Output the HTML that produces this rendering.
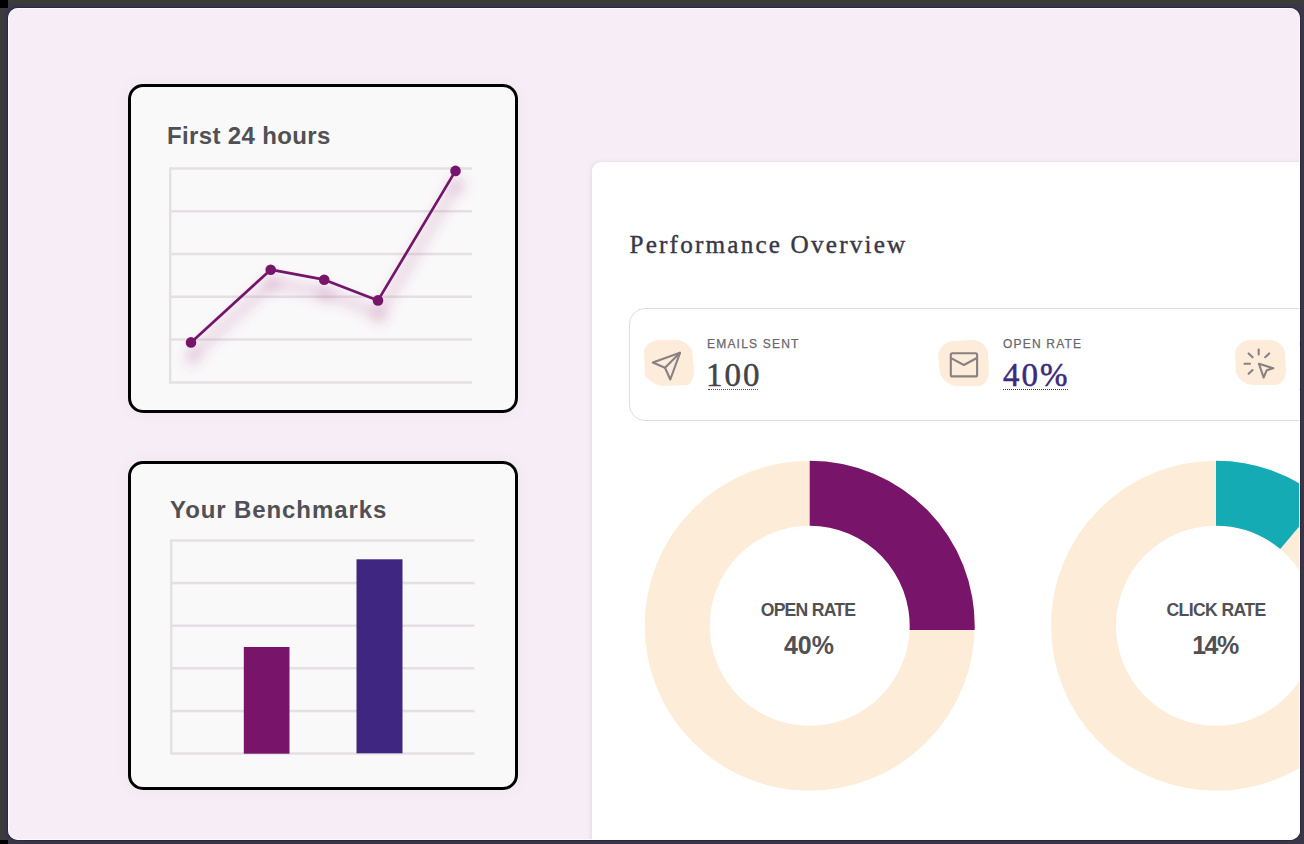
<!DOCTYPE html>
<html><head><meta charset="utf-8">
<style>
html,body{margin:0;padding:0;}
body{width:1304px;height:844px;overflow:hidden;background:#3b3b37;position:relative;font-family:"Liberation Sans",sans-serif;}
.band{position:absolute;left:3.5px;top:3.5px;right:0;bottom:0;background:#3a3649;}
.frame{position:absolute;left:8px;top:8px;width:1292px;height:832px;background:#f7edf6;border-radius:10px;overflow:hidden;box-shadow:0 0 0 1px #2e2a3e;}
.halo{position:absolute;left:8px;top:8px;width:1292px;height:832px;border-radius:10px;box-shadow:inset 0 0 0 1px rgba(255,250,255,0.8);pointer-events:none;}
.abs{position:absolute;}
.card{position:absolute;box-sizing:border-box;width:390px;height:329px;border:3px solid #000;border-radius:15px;background:#f9f9f9;box-shadow:0 0 18px rgba(60,40,60,0.04);}
.ttl{position:absolute;white-space:nowrap;font-weight:bold;color:#505055;font-size:24px;line-height:24px;}
.panel{position:absolute;left:583.5px;top:153.7px;width:800px;height:760px;background:#fff;border-radius:9px;box-shadow:-1px 0 4px rgba(150,140,150,0.18);}
.ptitle{position:absolute;white-space:nowrap;font-family:"Liberation Serif",serif;color:#383846;font-size:25.2px;line-height:26px;-webkit-text-stroke:0.4px #383846;}
.stats{position:absolute;box-sizing:border-box;border:1.3px solid #dfdede;border-radius:16px;background:#fff;}
.lbl{position:absolute;white-space:nowrap;font-size:12px;line-height:12px;color:#68686c;letter-spacing:1.2px;-webkit-text-stroke:0.25px #68686c;}
.val{position:absolute;white-space:nowrap;font-family:"Liberation Serif",serif;font-size:33px;line-height:32px;color:#444448;letter-spacing:2px;-webkit-text-stroke:0.5px currentColor;}
.dt{position:absolute;height:0;border-top:1.5px dotted #555;}
.dtxt{position:absolute;white-space:nowrap;font-weight:bold;color:#505055;text-align:center;}
</style></head>
<body>
<div class="band"></div>
<div class="abs" style="left:0;top:0;width:8px;height:7.5px;background:#000;"></div>
<div class="abs" style="left:0;top:840px;width:8px;height:4px;background:#000;"></div>
<div class="frame">
  <!-- card 1 -->
  <div class="card" style="left:120px;top:76px;"></div>
  <div class="ttl" style="left:159px;top:116px;letter-spacing:0.35px;">First 24 hours</div>
  <!-- card 2 -->
  <div class="card" style="left:120px;top:453px;"></div>
  <div class="ttl" style="left:162px;top:490px;letter-spacing:0.9px;">Your Benchmarks</div>

  <svg class="abs" style="left:-8px;top:-8px;" width="1304" height="844" viewBox="0 0 1304 844">
    <defs>
      <filter id="sh" x="-20%" y="-20%" width="140%" height="160%">
        <feGaussianBlur stdDeviation="6.5"/>
      </filter>
    </defs>
    <g stroke="#e4e0e3" stroke-width="2.5" fill="none">
      <line x1="169" y1="168.5" x2="472" y2="168.5"/>
      <line x1="169" y1="211.3" x2="472" y2="211.3"/>
      <line x1="169" y1="254" x2="472" y2="254"/>
      <line x1="169" y1="296.7" x2="472" y2="296.7"/>
      <line x1="169" y1="339.5" x2="472" y2="339.5"/>
      <line x1="169" y1="382.5" x2="472" y2="382.5"/>
      <line x1="170.2" y1="167.5" x2="170.2" y2="383.5"/>
    </g>
    <g filter="url(#sh)"><polyline points="192,355 271.7,282.7 325.2,292.7 379,313.4 456.5,183.9" fill="none" stroke="rgba(175,70,140,0.26)" stroke-width="8" stroke-linejoin="round"/>
      <g fill="rgba(175,70,140,0.22)"><circle cx="193" cy="357" r="8"/><circle cx="272" cy="284" r="8"/><circle cx="325" cy="294" r="8"/><circle cx="379" cy="315" r="8"/><circle cx="457" cy="185" r="8"/></g></g>
    <g fill="#76166b">
      <polyline points="191,342.4 270.7,269.7 324.2,279.7 378,300.4 455.5,170.9" fill="none" stroke="#76166b" stroke-width="2.7" stroke-linejoin="round"/>
      <circle cx="191" cy="342.4" r="5.3"/>
      <circle cx="270.7" cy="269.7" r="5.3"/>
      <circle cx="324.2" cy="279.7" r="5.3"/>
      <circle cx="378" cy="300.4" r="5.3"/>
      <circle cx="455.5" cy="170.9" r="5.3"/>
    </g>
    <g stroke="#e4e0e3" stroke-width="2.5" fill="none">
      <line x1="171" y1="540.5" x2="474.5" y2="540.5"/>
      <line x1="171" y1="583" x2="474.5" y2="583"/>
      <line x1="171" y1="625.7" x2="474.5" y2="625.7"/>
      <line x1="171" y1="668.3" x2="474.5" y2="668.3"/>
      <line x1="171" y1="711" x2="474.5" y2="711"/>
      <line x1="171" y1="753.5" x2="474.5" y2="753.5"/>
      <line x1="171.2" y1="539.5" x2="171.2" y2="754.5"/>
    </g>
    <rect x="243.8" y="647" width="45.7" height="106.7" fill="#78146a"/>
    <rect x="356.5" y="559.3" width="46" height="194" fill="#3f2681"/>
  </svg>

  <!-- panel -->
  <div class="panel"></div>
  <div class="ptitle" style="left:621.5px;top:224px;letter-spacing:2.18px;">Performance Overview</div>
  <div class="stats" style="left:621.2px;top:300.4px;width:760px;height:112.6px;"></div>

  <svg class="abs" style="left:-8px;top:-8px;" width="1304" height="844" viewBox="0 0 1304 844">
    <!-- blobs -->
    <path d="M657,340 L679,340 Q687,342 692,350 L694,370 Q694,381 688,385 L662,386 Q652,384 645,376 L644,350 Q647,342 657,340 Z" fill="#fdecda"/>
    <path d="M952,341 L974,340 Q985,342 988,352 L989,373 Q988,383 980,386 L956,386 Q945,384 940,374 L938,354 Q941,343 952,341 Z" fill="#fdecda"/>
    <path d="M1248,340 L1272,340 Q1282,342 1285,352 L1286,372 Q1285,382 1277,385 L1252,385 Q1240,383 1236,373 L1235,352 Q1238,342 1248,340 Z" fill="#fdecda"/>
    <!-- send icon -->
    <g fill="none" stroke="#898084" stroke-width="2.1" stroke-linejoin="round" stroke-linecap="round">
      <path d="M652.8,362.5 L680,352.8 L670.3,379.5 L665,367.7 Z"/>
      <path d="M665,367.7 L680,352.8"/>
    </g>
    <!-- envelope -->
    <g fill="none" stroke="#898084" stroke-width="2.1" stroke-linejoin="round" stroke-linecap="round">
      <rect x="950.8" y="353.2" width="26.3" height="23.2" rx="1.5"/>
      <path d="M951.5,358.3 L963.9,365 L976.4,358.3"/>
    </g>
    <!-- click icon -->
    <g fill="none" stroke="#898084" stroke-width="2.1" stroke-linecap="round" stroke-linejoin="round">
      <path d="M1258.7,349.5 L1258.7,354.5"/>
      <path d="M1248.6,353.4 L1252.6,357.2"/>
      <path d="M1269.2,353.4 L1265.2,357.2"/>
      <path d="M1244.5,363.8 L1250,363.8"/>
      <path d="M1248.6,373.8 L1252.6,370"/>
      <path d="M1259,363.8 L1273.3,368.3 L1266.8,370.2 L1263.6,377.5 Z"/>
    </g>
    <!-- donuts -->
    <circle cx="809.7" cy="625.7" r="132.5" fill="none" stroke="#fdedd8" stroke-width="65"/>
    <circle cx="1216" cy="625.7" r="132.5" fill="none" stroke="#fdedd8" stroke-width="65"/>
  </svg>
  <svg class="abs" style="left:-8px;top:-8px;" width="1304" height="844" viewBox="0 0 1304 844">
    <path d="M809.70,460.70 A165.00,165.00 0 0 1 974.64,630.00 L909.61,630.00 A100.00,100.00 0 0 0 809.70,525.70 Z" fill="#78156a"/>
    <path d="M1216.00,460.70 A165.00,165.00 0 0 1 1322.06,499.30 L1280.28,549.10 A100.00,100.00 0 0 0 1216.00,525.70 Z" fill="#14abb4"/>
  </svg>

  <div class="lbl" style="left:699px;top:330px;">EMAILS SENT</div>
  <div class="val" style="left:698px;top:351px;">100</div>
  <div class="dt" style="left:700px;top:381px;width:50px;"></div>
  <div class="lbl" style="left:995px;top:330px;">OPEN RATE</div>
  <div class="val" style="left:995px;top:351px;color:#3b2a80;">40%</div>
  <div class="dt" style="left:995px;top:381px;width:65px;border-color:#3b2a80;"></div>
  <div class="lbl" style="left:1291px;top:330px;">CLICK RATE</div>
  <div class="dt" style="left:1291px;top:381px;width:40px;"></div>

  <div class="dtxt" style="left:700px;top:594px;width:200px;font-size:17.6px;line-height:17px;letter-spacing:-0.75px;">OPEN RATE</div>
  <div class="dtxt" style="left:701px;top:625px;width:200px;font-size:25px;line-height:25px;">40%</div>
  <div class="dtxt" style="left:1108px;top:594px;width:200px;font-size:17.6px;line-height:17px;letter-spacing:-0.6px;">CLICK RATE</div>
  <div class="dtxt" style="left:1107px;top:625px;width:200px;font-size:25px;line-height:25px;letter-spacing:-1.5px;">14%</div>
</div>
<div class="halo"></div>
</body></html>
